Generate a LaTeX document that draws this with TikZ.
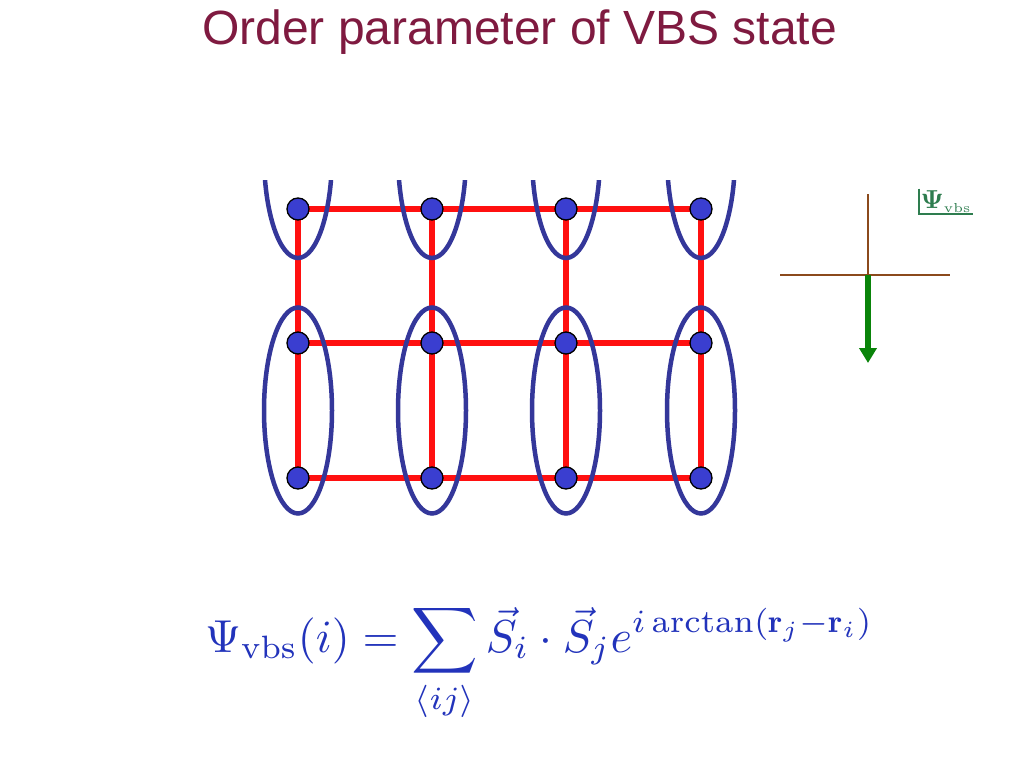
\documentclass[tikz,border=0pt]{standalone}
\usepackage{amsmath}
\usepackage{fontspec}
\setsansfont{Liberation Sans}
\usetikzlibrary{arrows.meta,calc}
\definecolor{VBStitle}{HTML}{7F1A40}
\definecolor{VBSred}{HTML}{FF1010}
\definecolor{VBSsite}{HTML}{3A3ED0}
\definecolor{VBSdimer}{HTML}{34379A}
\definecolor{VBSbrown}{HTML}{8B4A1C}
\definecolor{VBSgreen}{HTML}{0A840A}
\definecolor{VBSlabel}{HTML}{2E7D4F}
\definecolor{VBSformula}{HTML}{2233BB}
\tikzset{
  bond/.style={draw=VBSred, line width=5.5pt},
  site/.style={circle, draw=black, line width=1.3pt, fill=VBSsite, minimum size=22pt, inner sep=0pt},
  dimer/.style={draw=VBSdimer, line width=4.5pt},
  axisline/.style={draw=VBSbrown, line width=1.6pt},
  vbsarr/.style={-{Triangle[length=15pt,width=17pt]}, draw=VBSgreen, line width=6pt},
  title/.style={font=\sffamily\fontsize{48}{56}\selectfont, text=VBStitle, inner sep=0pt}
}

\begin{document}
\begin{tikzpicture}[x=1pt,y=-1pt]
\useasboundingbox[fill=white] (0,0) rectangle (1024,768);
\node[title, anchor=base] (head) at (519.5,45) {Order parameter of VBS state};
% lattice sites
\foreach \c/\x in {1/298,2/432,3/566,4/701}
  \foreach \r/\y in {1/209,2/343,3/478}
    \coordinate (p\c\r) at (\x,\y);
% bonds
\foreach \r in {1,2,3}
  \draw[bond] (p1\r) -- (p2\r) -- (p3\r) -- (p4\r);
\foreach \c in {1,2,3,4}
  \draw[bond] (p\c1) -- (p\c2) -- (p\c3);
% dimers
\foreach \c in {1,2,3,4}
  \draw[dimer] ($(p\c2)!0.5!(p\c3)$) ellipse (34 and 103);
\begin{scope}
  \clip (240,180) rectangle (760,300);
  \foreach \c in {1,2,3,4}
    \draw[dimer] ($(p\c1)+(0,-54)$) ellipse (34 and 103);
\end{scope}
\foreach \c in {1,2,3,4}
  \foreach \r in {1,2,3}
    \node[site] (s\c\r) at (p\c\r) {};
% order parameter axes
\coordinate (o) at (868,275);
\coordinate (xl) at (780,275);
\coordinate (xr) at (950,275);
\coordinate (yt) at (868,194);
\coordinate (tip) at (868,363);
\draw[axisline] (xl) -- (xr);
\draw[axisline] (yt) -- (o);
\draw[vbsarr] (o) -- (tip);
\node[anchor=south west, inner xsep=1.5pt, inner ysep=1.5pt, text=VBSlabel] (lab) at (919,214) {\scalebox{2.6}{$\boldsymbol{\Psi}_{\scriptscriptstyle\rm vbs}$}};
\draw[VBSlabel, line width=1.2pt] (lab.north west) |- (lab.south east);
% formula
\node[anchor=base west, inner sep=0pt, text=VBSformula] (eq) at (205,652)
  {\scalebox{4.62}{$\displaystyle \Psi_{\rm vbs}(i)=\sum_{\langle ij\rangle}\vec{S}_i\cdot\vec{S}_j e^{i\arctan(\mathbf{r}_j-\mathbf{r}_i)}$}};
\end{tikzpicture}
\end{document}
